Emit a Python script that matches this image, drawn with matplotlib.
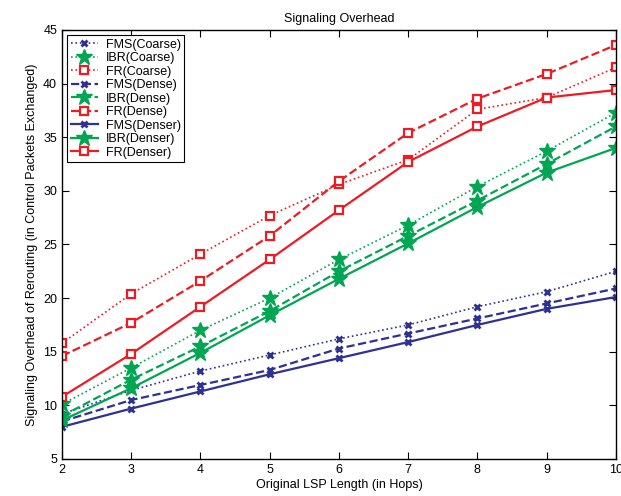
import matplotlib
matplotlib.use("Agg")
import matplotlib.pyplot as plt

plt.rcParams['font.family'] = ['Liberation Sans', 'DejaVu Sans']

hops = [2, 3, 4, 5, 6, 7, 8, 9, 10]

fms_coarse = [9.2, 11.4, 13.2, 14.7, 16.2, 17.5, 19.2, 20.6, 22.5]
ibr_coarse = [10.1, 13.5, 17.0, 20.0, 23.6, 26.8, 30.4, 33.7, 37.3]
fr_coarse = [15.8, 20.4, 24.1, 27.7, 30.6, 32.9, 37.6, 38.7, 41.5]
fms_dense = [8.5, 10.5, 11.9, 13.3, 15.3, 16.7, 18.1, 19.5, 20.9]
ibr_dense = [9.0, 12.4, 15.5, 18.8, 22.5, 25.8, 29.1, 32.5, 36.0]
fr_dense = [14.6, 17.7, 21.6, 25.8, 30.9, 35.4, 38.6, 40.9, 43.6]
fms_denser = [8.0, 9.7, 11.3, 12.9, 14.4, 15.9, 17.5, 19.0, 20.1]
ibr_denser = [8.6, 11.6, 14.9, 18.4, 21.8, 25.1, 28.5, 31.7, 34.0]
fr_denser = [10.8, 14.8, 19.2, 23.6, 28.2, 32.7, 36.0, 38.7, 39.4]

labels = ['FMS(Coarse)', 'IBR(Coarse)', 'FR(Coarse)',
          'FMS(Dense)', 'IBR(Dense)', 'FR(Dense)',
          'FMS(Denser)', 'IBR(Denser)', 'FR(Denser)']

blue = '#2e3192'
green = '#00a651'
red = '#ed1c24'

fig = plt.figure(figsize=(6.21, 4.96), dpi=100)
ax = fig.add_axes([0.0998, 0.0746, 0.892, 0.865])

series = [
    (fms_coarse, blue, ':', 'x'), (ibr_coarse, green, ':', '*'), (fr_coarse, red, ':', 's'),
    (fms_dense, blue, '--', 'x'), (ibr_dense, green, '--', '*'), (fr_dense, red, '--', 's'),
    (fms_denser, blue, '-', 'x'), (ibr_denser, green, '-', '*'), (fr_denser, red, '-', 's'),
]

for (vals, col, ls, mk), lab in zip(series, labels):
    lw = 1.2 if ls == ':' else 1.6
    if mk == 'x':
        ms, mew, mfc = 5, 2.0, col
    elif mk == '*':
        ms, mew, mfc = 12, 1.0, col
    else:
        ms, mew, mfc = 6, 1.6, 'white'
    ax.plot(hops, vals, color=col, linestyle=ls, linewidth=lw, marker=mk,
            markersize=ms, markeredgewidth=mew, markerfacecolor=mfc,
            markeredgecolor=col, label=lab)

ax.set_xlim(2, 10)
ax.set_ylim(5, 45)
ax.set_xticks(hops)
ax.set_yticks(range(5, 46, 5))
ax.tick_params(direction='in', top=True, right=True, labelsize=9, length=5)
for s in ax.spines.values():
    s.set_linewidth(1.0)

ax.set_title('Signaling Overhead', fontsize=9, pad=6)
ax.set_xlabel('Original LSP Length (in Hops)', fontsize=9, labelpad=2)
ax.set_ylabel('Signaling Overhead of Rerouting (in Control Packets Exchanged)', fontsize=9, labelpad=4)

leg = ax.legend(loc='upper left', fontsize=9, frameon=True, fancybox=False,
                edgecolor='black', framealpha=1, handlelength=2.2,
                labelspacing=0.12, borderpad=0.3, handletextpad=0.6,
                borderaxespad=0.4)
leg.get_frame().set_linewidth(0.8)

fig.savefig('out.png', dpi=100)
